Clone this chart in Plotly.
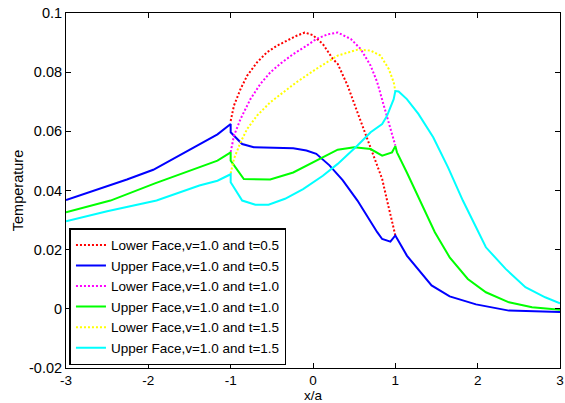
import plotly.graph_objects as go

# Lower Face, v=1.0, t=0.5 (red dotted)
x_l05 = [-1.0, -0.96, -0.88, -0.80, -0.68, -0.56, -0.44, -0.32, -0.2, -0.1, 0.0, 0.12, 0.24, 0.3, 0.42, 0.54, 0.66, 0.76, 0.84, 0.9, 1.0]
y_l05 = [0.0635, 0.0687, 0.0743, 0.0788, 0.0833, 0.0867, 0.0889, 0.0906, 0.0923, 0.0934, 0.0925, 0.0895, 0.0845, 0.0828, 0.0755, 0.0664, 0.0574, 0.0495, 0.0439, 0.0366, 0.0248]

# Upper Face, v=1.0, t=0.5 (blue)
x_u05 = [-3.0, -2.58, -2.26, -1.94, -1.38, -1.16, -1.0, -1.0, -0.86, -0.72, -0.24, -0.08, 0.04, 0.2, 0.36, 0.54, 0.78, 0.84, 0.94, 1.0, 1.14, 1.44, 1.66, 1.98, 2.38, 3.0]
y_u05 = [0.0368, 0.0407, 0.0437, 0.0470, 0.0557, 0.0590, 0.0625, 0.0597, 0.0557, 0.0546, 0.0543, 0.0535, 0.0524, 0.0485, 0.0435, 0.0366, 0.0259, 0.0236, 0.0227, 0.0248, 0.0180, 0.0079, 0.0042, 0.0015, -0.0006, -0.0011]

# Lower Face, v=1.0, t=1.0 (magenta dotted)
x_l10 = [-1.0, -0.96, -0.88, -0.76, -0.64, -0.52, -0.4, -0.24, -0.08, 0.04, 0.18, 0.3, 0.46, 0.58, 0.7, 0.78, 0.86, 0.94, 1.0]
y_l10 = [0.0530, 0.0585, 0.0642, 0.0709, 0.0760, 0.0799, 0.0828, 0.0861, 0.0889, 0.0912, 0.0928, 0.0934, 0.0912, 0.0878, 0.0822, 0.0766, 0.0687, 0.0608, 0.0552]

# Upper Face, v=1.0, t=1.0 (green)
x_u10 = [-3.0, -2.46, -1.92, -1.38, -1.16, -1.0, -1.0, -0.84, -0.52, -0.24, 0.04, 0.3, 0.5, 0.7, 0.84, 0.96, 1.0, 1.02, 1.14, 1.3, 1.48, 1.66, 1.88, 2.1, 2.38, 2.66, 3.0]
y_u10 = [0.0326, 0.0366, 0.0424, 0.0478, 0.0501, 0.0529, 0.0501, 0.0439, 0.0437, 0.0461, 0.0501, 0.0538, 0.0546, 0.0540, 0.0518, 0.0529, 0.0550, 0.0529, 0.0461, 0.0366, 0.0259, 0.0174, 0.0101, 0.0056, 0.0022, 0.0005, -0.0003]

# Lower Face, v=1.0, t=1.5 (yellow dotted)
x_l15 = [-1.0, -0.96, -0.88, -0.8, -0.68, -0.52, -0.36, -0.2, 0.04, 0.3, 0.54, 0.7, 0.82, 0.92, 0.98, 1.0]
y_l15 = [0.0458, 0.0507, 0.0563, 0.0608, 0.0653, 0.0698, 0.0732, 0.0766, 0.0811, 0.0856, 0.0876, 0.0873, 0.0856, 0.0811, 0.0766, 0.0736]

# Upper Face, v=1.0, t=1.5 (cyan)
x_u15 = [-3.0, -2.5, -1.9, -1.38, -1.16, -1.0, -1.0, -0.86, -0.7, -0.54, -0.34, -0.12, 0.12, 0.3, 0.54, 0.7, 0.84, 0.9, 0.98, 1.0, 1.04, 1.14, 1.28, 1.46, 1.64, 1.82, 2.1, 2.34, 2.58, 2.82, 3.0]
y_u15 = [0.0296, 0.0330, 0.0366, 0.0417, 0.0433, 0.0455, 0.0428, 0.0366, 0.0352, 0.0352, 0.0372, 0.0405, 0.0450, 0.0490, 0.0552, 0.0597, 0.0625, 0.0653, 0.0709, 0.0736, 0.0735, 0.0709, 0.0659, 0.0580, 0.0478, 0.0366, 0.0208, 0.0135, 0.0073, 0.0039, 0.0019]

names = [
    "Lower Face,v=1.0 and t=0.5",
    "Upper Face,v=1.0 and t=0.5",
    "Lower Face,v=1.0 and t=1.0",
    "Upper Face,v=1.0 and t=1.0",
    "Lower Face,v=1.0 and t=1.5",
    "Upper Face,v=1.0 and t=1.5",
]

x_ticks = [-3, -2, -1, 0, 1, 2, 3]
x_labels = ["-3", "-2", "-1", "0", "1", "2", "3"]
y_ticks = [-0.02, 0, 0.02, 0.04, 0.06, 0.08, 0.1]
y_labels = ["-0.02", "0", "0.02", "0.04", "0.06", "0.08", "0.1"]

series = [
    (x_l05, y_l05, "#ff0000", "2px,2px"),
    (x_u05, y_u05, "#0000ff", "solid"),
    (x_l10, y_l10, "#ff00ff", "2px,2px"),
    (x_u10, y_u10, "#00ff00", "solid"),
    (x_l15, y_l15, "#ffff00", "2px,2px"),
    (x_u15, y_u15, "#00ffff", "solid"),
]

fig = go.Figure()
for (xs, ys, col, dash), nm in zip(series, names):
    fig.add_trace(go.Scatter(x=xs, y=ys, mode="lines", name=nm,
                             line=dict(color=col, width=2, dash=dash)))

font_family = "Liberation Sans, Arial, sans-serif"
axis_common = dict(showline=True, linecolor="black", linewidth=1, mirror="ticks",
                   ticks="inside", ticklen=5, tickcolor="black", showgrid=False,
                   zeroline=False, ticklabeloverflow="allow")

fig.update_layout(
    width=565, height=403,
    margin=dict(l=66, r=1, t=13, b=35),
    plot_bgcolor="white", paper_bgcolor="white",
    font=dict(family=font_family, color="black"),
    xaxis=dict(range=[-3, 3], tickvals=x_ticks, ticktext=x_labels,
               tickfont=dict(size=13.5, color="black", family=font_family),
               title=dict(text="x/a", font=dict(size=13.5), standoff=4), **axis_common),
    yaxis=dict(range=[-0.02, 0.1], tickvals=y_ticks, ticktext=y_labels,
               tickfont=dict(size=14.5, color="black", family=font_family),
               title=dict(text="Temperature", font=dict(size=14.5), standoff=1), **axis_common),
    legend=dict(x=0.007, y=0.008, xanchor="left", yanchor="bottom",
                bgcolor="white", bordercolor="black", borderwidth=1.5,
                font=dict(size=13.5, color="black", family=font_family),
                tracegroupgap=0),
    showlegend=True,
)

fig.write_html("out.html")
